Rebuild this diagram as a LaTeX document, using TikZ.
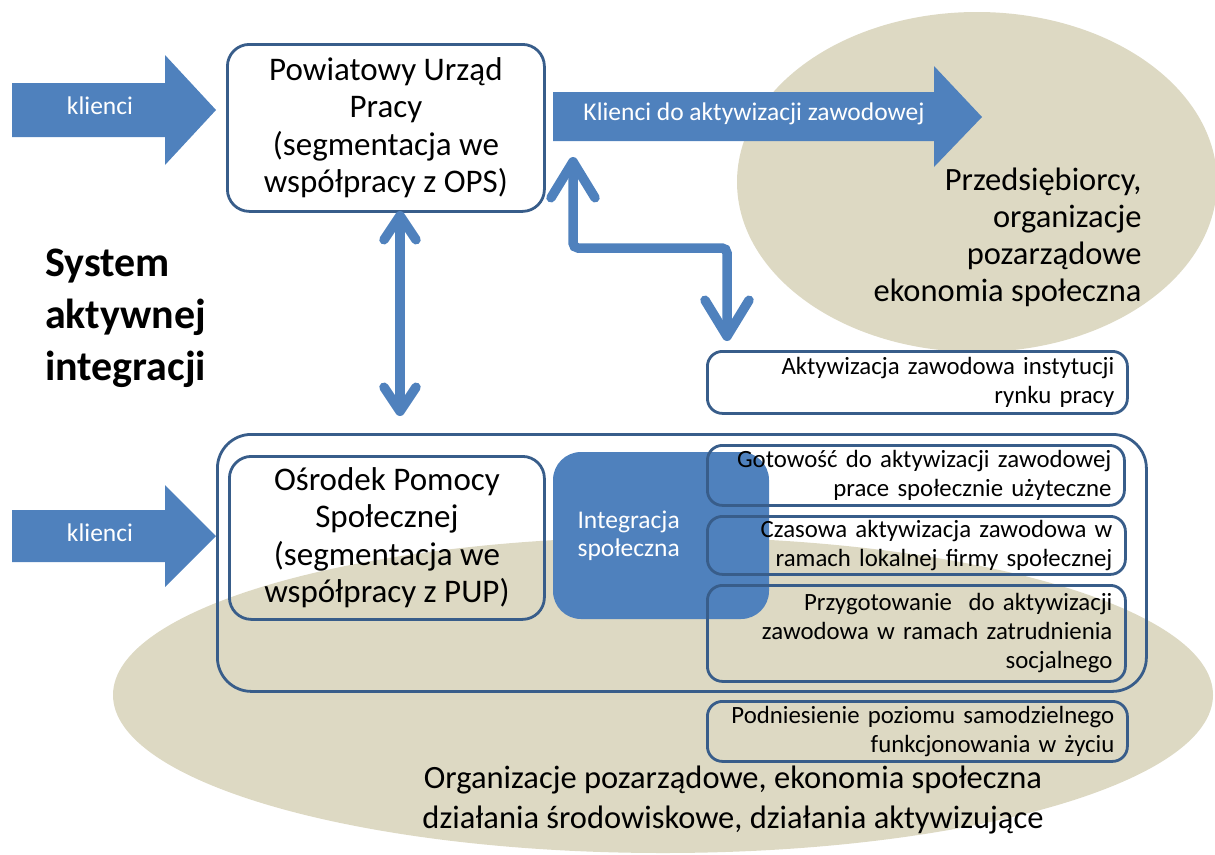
\documentclass[tikz,border=0pt]{standalone}
\usepackage{fontspec}
\setmainfont{Carlito}
\usetikzlibrary{arrows.meta}
\definecolor{sand}{RGB}{221,217,195}
\definecolor{accent}{RGB}{79,129,189}
\definecolor{edge}{RGB}{56,93,138}
\tikzset{
  smallbarb/.tip={Straight Barb[round, length=24pt, width=32pt]},
  bigbarb/.tip={Straight Barb[round, length=36pt, width=44pt]}
}
\begin{document}
\begin{tikzpicture}[x=1pt,y=-1pt,
  panel/.style={draw=edge, line width=2.8pt, rounded corners=15pt, inner sep=0pt, anchor=north west},
  bigtext/.style={font=\fontsize{33}{37.5}\selectfont, align=center},
  smalltext/.style={font=\fontsize{24.8}{29}\selectfont},
  whitetext/.style={text=white, font=\fontsize{25.5}{28}\selectfont},
  blockarrow/.style={fill=accent},
  link/.style={draw=accent, line width=9.5pt}
]
\useasboundingbox (0,0) rectangle (1215,854);
\clip (0,0) rectangle (1215,854);

% background areas
\fill[sand] (977,182) ellipse [x radius=240pt, y radius=170pt];
\fill[sand] (663,695) ellipse [x radius=550pt, y radius=158pt];

% block arrows
\fill[blockarrow] (12,83) -- (165,83) -- (165,55) -- (216,110) -- (165,165) -- (165,137) -- (12,137) -- cycle;
\fill[blockarrow] (12,510) -- (165,510) -- (165,485) -- (216,536) -- (165,587) -- (165,562) -- (12,562) -- cycle;
\fill[blockarrow] (553,92) -- (934,92) -- (934,66) -- (982,117) -- (934,167) -- (934,141) -- (553,141) -- cycle;
\node[whitetext] (inTop) at (100,106) {klienci};
\node[whitetext] (inBot) at (100,533) {klienci};
\node[whitetext] (toWork) at (754,114) {Klienci do aktywizacji zawodowej};

% labour office
\node[panel, rounded corners=22pt, minimum width=317pt, minimum height=167pt, bigtext] (pup) at (226,43)
  {Powiatowy Urząd\\Pracy\\(segmentacja we\\współpracy z OPS)};

% employers
\node[anchor=north east, align=right, font=\fontsize{32.5}{37}\selectfont] (firms) at (1145,164)
  {Przedsiębiorcy,\\organizacje\\pozarządowe\\ekonomia społeczna};

% title
\node[anchor=north west, align=left, font=\bfseries\fontsize{42}{52}\selectfont, inner sep=0pt] (title) at (45,249)
  {System\\aktywnej\\integracji};

% labour market activation
\node[panel, minimum width=420pt, minimum height=62pt, smalltext, text width=394pt, align=right] (akt) at (706,350)
  {Aktywizacja zawodowa instytucji\\rynku pracy};

% social assistance group
\node[panel, rounded corners=34pt, minimum width=929pt, minimum height=257pt] (group) at (216,433) {};
\node[panel, rounded corners=22pt, minimum width=315pt, minimum height=163pt, bigtext] (ops) at (228,455)
  {Ośrodek Pomocy\\Społecznej\\(segmentacja we\\współpracy z PUP)};
\fill[accent, rounded corners=28pt] (553,452) rectangle (769,619);
\node[whitetext, align=left, anchor=west] (integ) at (574,536) {Integracja\\społeczna};

\node[panel, minimum width=417pt, minimum height=60pt, smalltext, text width=391pt, align=right] (got) at (706,444)
  {Gotowość do aktywizacji zawodowej\\prace społecznie użyteczne};
\node[panel, minimum width=418pt, minimum height=58pt, smalltext, text width=392pt, align=right] (czas) at (706,515)
  {Czasowa aktywizacja zawodowa w\\ramach lokalnej firmy społecznej};
\node[panel, minimum width=418pt, minimum height=96pt, smalltext, text width=392pt, align=right] (przyg) at (706,584)
  {Przygotowanie~ do aktywizacji\\zawodowa w ramach zatrudnienia\\socjalnego};
\node[panel, minimum width=420pt, minimum height=60pt, smalltext, text width=394pt, align=right] (podn) at (706,700)
  {Podniesienie poziomu samodzielnego\\funkcjonowania w życiu};

% community organisations
\node[align=center, font=\fontsize{32.5}{40}\selectfont] (orgs) at (733,800)
  {Organizacje pozarządowe, ekonomia społeczna\\działania środowiskowe, działania aktywizujące};

% two-way links
\coordinate (vTop) at (400,211);
\coordinate (vBot) at (400,416);
\draw[link, {smallbarb}-{smallbarb}] (vTop) -- (vBot);

\coordinate (eTop) at (573,157);
\coordinate (eBot) at (727,341);
\draw[link, rounded corners=5pt, {bigbarb}-{bigbarb}] (eTop) -- (573,248) -- (727,248) -- (eBot);
\end{tikzpicture}
\end{document}
